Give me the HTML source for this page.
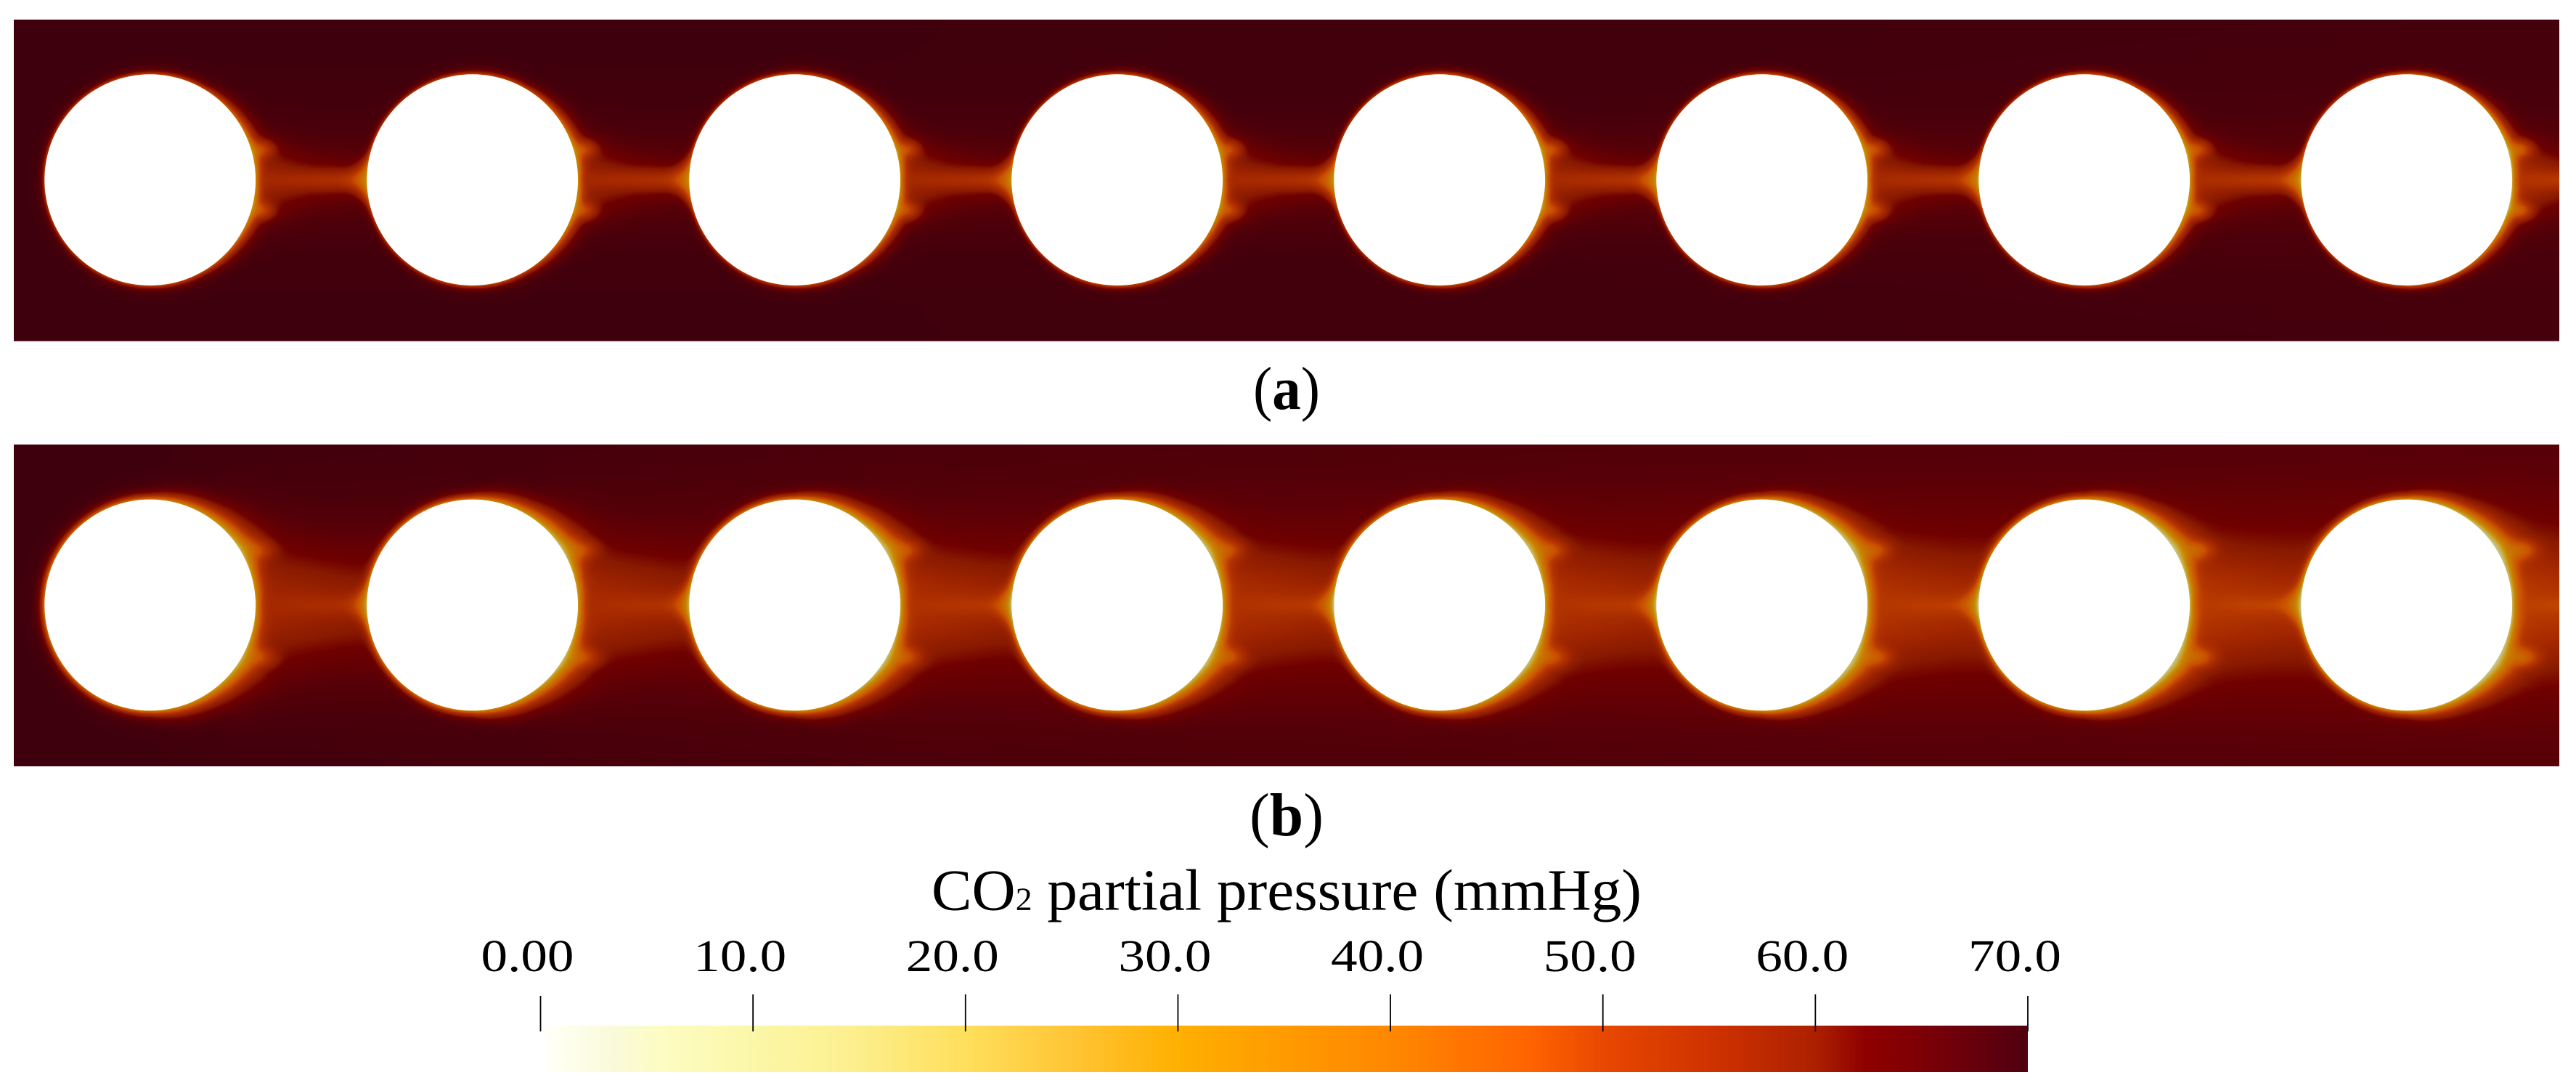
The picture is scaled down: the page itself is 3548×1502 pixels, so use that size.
<!DOCTYPE html>
<html lang="en">
<head>
<meta charset="utf-8">
<title>CO2 partial pressure field</title>
<style>
html,body{margin:0;padding:0;background:#fff;}
#figure{position:relative;width:3548px;height:1502px;overflow:hidden;background:#fff;}
canvas{position:absolute;left:19px;display:block;}
#field-a{top:27px;width:3506px;height:442px;}
#field-b{top:612px;width:3506px;height:443px;}
svg{position:absolute;left:0;top:0;}
text{font-family:"Liberation Serif",serif;fill:#000;}
</style>
</head>
<body>
<div id="figure">
<canvas id="field-a" width="1753" height="221"></canvas>
<canvas id="field-b" width="1753" height="222"></canvas>
<svg id="overlay" width="3548" height="1502" viewBox="0 0 3548 1502">
  <defs><linearGradient id="bar-gradient" x1="0" x2="1" y1="0" y2="0"></linearGradient></defs>
  <rect x="19" y="469" width="3506" height="1" fill="#7a4a50"></rect>
  <g id="holes"></g>
  <text x="1772" y="563" font-size="84" text-anchor="middle" textLength="92" lengthAdjust="spacingAndGlyphs">(<tspan font-weight="bold">a</tspan>)</text>
  <text x="1772" y="1150" font-size="84" text-anchor="middle" textLength="102" lengthAdjust="spacingAndGlyphs">(<tspan font-weight="bold">b</tspan>)</text>
  <text x="1772" y="1252.5" font-size="80" text-anchor="middle" textLength="978" lengthAdjust="spacingAndGlyphs">CO<tspan font-size="44">2</tspan> partial pressure (mmHg)</text>
  <g id="colorbar"></g>
</svg>
</div>
<script>
// Colour scale
const colorValues=[0,1,3.6,6,10,14.4,20,25,30,33.6,40,46.5,50,55.6,60,62.4,65,70];
const colorHexes=["#ffffff","#fffff0","#f9fad8","#fdfcc0","#fbf7a8","#fcf090","#ffdf5c","#ffc535","#ffb000","#ffa000","#ff8800","#ff6400","#e84800","#cc3000","#ac2000","#8e0000","#7c0006","#500010"];
// Colour bar axis
const tickValues=[0,10,20,30,40,50,60,70];
const tickLabels=["0.00","10.0","20.0","30.0","40.0","50.0","60.0","70.0"];
// Fibre layout
const fibreColumns=[0,1,2,3,4,5,6,7];
// Boundary layer angle stations (degrees from the downstream axis)
const phiA=[0,15,35,60,90,130,180];
const surfaceA=[38,44,32,24,24,20,20];
const thicknessA=[7,11,10,6,4.5,4,4];
const phiB=[0,15,33,60,90,130,180];
const surfaceB=[44,47,56,46,38,36,36];
const thicknessB=[9,12,20,13,6.5,5.5,5.5];
// Wake between fibres, stations along the gap
const gapStations=[0,0.2,0.5,0.8,1];
const wakeA=[10,9,6,4,4];
const wakeHeightA=[52,46,34,28,26];
const haloA=[4,4,4,4,4];
const coreA=[1,3,7,10,13];
const wakeB=[9,9,8,7,6];
const wakeHeightB=[90,80,70,62,62];
const haloB=[7,7,7,7,7];
const coreB=[0,1,3,4,5];
// Per-column strength and far field pressure deficit (mmHg)
const strengthA=[0.95,0.95,0.97,0.97,1,1,1.05,1.15];
const strengthB=[0.9,0.95,1,1,1,1.05,1.08,1.12];
const farDeficitA=[0,0,0,0.3,0.6,1,1.5,2];
const farDeficitB=[0,2,4,5.5,6.5,7.5,8,9];

const MAX_VALUE=70,SHADE=0.79;
const CX0=206.7,PITCH=444,RADIUS=145.4,GAP=PITCH-2*RADIUS;
const BAR_LEFT=744.5,BAR_RIGHT=2793;
const barX=v=>BAR_LEFT+(v/MAX_VALUE)*(BAR_RIGHT-BAR_LEFT);
const SVGNS="http://www.w3.org/2000/svg";

function hexRgb(h){return [parseInt(h.slice(1,3),16),parseInt(h.slice(3,5),16),parseInt(h.slice(5,7),16)];}
function interp(xs,ys,x){
  if(x<=xs[0])return ys[0];
  for(let i=1;i<xs.length;i++){if(x<=xs[i]){const t=(x-xs[i-1])/(xs[i]-xs[i-1]);return ys[i-1]+t*(ys[i]-ys[i-1]);}}
  return ys[ys.length-1];
}
const lutR=[],lutG=[],lutB=[];
(function(){
  const rgb=colorHexes.map(hexRgb);
  for(let i=0;i<=MAX_VALUE*10;i++){
    const v=i/10;
    lutR.push(SHADE*interp(colorValues,rgb.map(c=>c[0]),v));
    lutG.push(SHADE*interp(colorValues,rgb.map(c=>c[1]),v));
    lutB.push(SHADE*interp(colorValues,rgb.map(c=>c[2]),v));
  }
})();

function paintField(id,cfg){
  const cv=document.getElementById(id),ctx=cv.getContext("2d");
  const W=cv.width,H=cv.height,img=ctx.createImageData(W,H),px=img.data;
  const surf=[],thick=[];
  for(let a=0;a<=180;a++){surf.push(interp(cfg.phi,cfg.surface,a));thick.push(interp(cfg.phi,cfg.thickness,a));}
  const wide=[],wideH=[],core=[],halo=[];
  for(let j=0;j<=100;j++){const u=j/100;wide.push(interp(gapStations,cfg.wake,u));wideH.push(interp(gapStations,cfg.wakeHeight,u));core.push(interp(gapStations,cfg.core,u));halo.push(interp(gapStations,cfg.halo,u));}
  const scale=cfg.scaleY;
  const hotSurfU=Math.sqrt(RADIUS*RADIUS-cfg.hotUp*cfg.hotUp),hotSurfD=Math.sqrt(RADIUS*RADIUS-cfg.hotDown*cfg.hotDown);
  function layer(dx,dy){
    const r=Math.sqrt(dx*dx+dy*dy);
    const d=Math.max(0,r-RADIUS);
    const a=Math.min(180,Math.round(Math.abs(Math.atan2(dy,dx))*57.2958));
    return surf[a]*Math.exp(-d/thick[a]);
  }
  for(let iy=0;iy<H;iy++){
    const Y=cfg.top+(iy+0.5)*scale,dy=Y-cfg.cy,ady=Math.abs(dy);
    for(let ix=0;ix<W;ix++){
      const X=19+(ix+0.5)*2,o=(iy*W+ix)*4;
      const col=Math.floor((X-CX0)/PITCH);
      const cl=CX0+col*PITCH,cr=cl+PITCH;
      const hasL=col>=0,hasR=col<7;
      const idx=Math.max(0,Math.min(7,col));
      const k=cfg.strength[idx];
      let sum=0;
      const dL=X-cl,dR=X-cr;
      if(hasL){const D=k*layer(dL,dy);sum+=D*D;}
      if(hasR){const D=k*layer(dR,dy);sum+=D*D;}
      if(hasL&&dL>60){
        // cusped plumes on the rear flank of a fibre
        const shift=idx*cfg.hotShift;
        const hu=(dL-hotSurfU-cfg.hotGap-shift)/cfg.hotSx,hd=(dL-hotSurfD-cfg.hotGap-shift)/cfg.hotSx;
        const vu=(dy+cfg.hotUp)/cfg.hotSy,vd=(dy-cfg.hotDown)/cfg.hotSy;
        const hot=k*cfg.hotAmp*(Math.exp(-hu*hu-vu*vu)+Math.exp(-hd*hd-vd*vd));
        sum+=hot*hot;
      }
      if(hasL&&dL>80){
        // wake band, halo and core line
        const fade=Math.min(1,(dL-80)/30);
        const u=Math.max(0,Math.min(1,(dL-RADIUS)/GAP)),j=Math.round(u*100);
        const rh=ady/wideH[j];
        const band=wide[j]*Math.exp(-rh*rh);
        const cr2=ady/(cfg.coreWidth+u*4);
        const beam=core[j]*Math.exp(-cr2*cr2);
        const hr=ady/cfg.haloHeight;
        const wake=fade*k*(band+beam+halo[j]*Math.exp(-hr*hr));
        sum+=wake*wake;
      }
      if(hasL&&hasR){
        // leading edge cusp on the next fibre
        const r=Math.sqrt(dR*dR+dy*dy),dl=Math.max(0,r-RADIUS);
        if(dR<0&&dl<110){
          const ww=cfg.cuspWidth+0.75*Math.max(0,40-dl),q=ady/ww;
          const cusp=k*cfg.cuspAmp*Math.exp(-dl/cfg.cuspLen)*Math.exp(-q*q);
          sum+=cusp*cusp;
        }
      }
      const fx=interp(fibreColumns,cfg.far,(X-CX0)/PITCH);
      const ry=dy/cfg.farSpread;
      const far=fx*(cfg.farBase+(1-cfg.farBase)*Math.exp(-ry*ry));
      sum+=far*far;
      const D=Math.sqrt(sum);
      const v=Math.max(0,MAX_VALUE-D),c=Math.round(v*10);
      px[o]=lutR[c];px[o+1]=lutG[c];px[o+2]=lutB[c];px[o+3]=255;
    }
  }
  ctx.putImageData(img,0,0);
}

paintField("field-a",{top:27,cy:247.7,scaleY:2,phi:phiA,surface:surfaceA,thickness:thicknessA,wake:wakeA,wakeHeight:wakeHeightA,halo:haloA,haloHeight:75,core:coreA,strength:strengthA,far:farDeficitA,farBase:0.3,farSpread:140,hotAmp:20,hotSx:21,hotSy:15,hotUp:42,hotDown:42,hotGap:14,hotShift:0.4,coreWidth:12,cuspAmp:36,cuspLen:19,cuspWidth:7});
paintField("field-b",{top:612,cy:833,scaleY:443/222,phi:phiB,surface:surfaceB,thickness:thicknessB,wake:wakeB,wakeHeight:wakeHeightB,halo:haloB,haloHeight:125,core:coreB,strength:strengthB,far:farDeficitB,farBase:0.3,farSpread:150,hotAmp:21,hotSx:29,hotSy:18,hotUp:76,hotDown:72,hotGap:22,hotShift:1.5,coreWidth:12,cuspAmp:40,cuspLen:19,cuspWidth:8});

// Fibre holes
const holeLayer=document.getElementById("holes");
[247.7,833].forEach(function(cy,p){
  fibreColumns.forEach(function(c){
    const h=document.createElementNS(SVGNS,"ellipse");
    h.setAttribute("cx",CX0+c*PITCH);
    h.setAttribute("cy",cy);
    h.setAttribute("rx",RADIUS);
    h.setAttribute("ry",RADIUS);
    h.setAttribute("fill","#ffffff");
    
    
    holeLayer.appendChild(h);
  });
});

// Colour bar
const grad=document.getElementById("bar-gradient");
colorValues.forEach(function(v,i){
  const s=document.createElementNS(SVGNS,"stop");
  s.setAttribute("offset",v/MAX_VALUE);
  s.setAttribute("stop-color",colorHexes[i]);
  grad.appendChild(s);
});
const cb=document.getElementById("colorbar");
const bar=document.createElementNS(SVGNS,"rect");
bar.setAttribute("x",BAR_LEFT);
bar.setAttribute("y",1412);
bar.setAttribute("width",BAR_RIGHT-BAR_LEFT);
bar.setAttribute("height",64);
bar.setAttribute("fill","url(#bar-gradient)");


cb.appendChild(bar);
tickValues.forEach(function(v,i){
  const x=barX(v),edge=(i===0||i===tickValues.length-1);
  const t=document.createElementNS(SVGNS,"line");
  t.setAttribute("x1",x);
  t.setAttribute("x2",x);
  t.setAttribute("y1",edge?1371:1369);
  t.setAttribute("y2",1420);
  t.setAttribute("stroke","#000");
  t.setAttribute("stroke-width",1.8);
  
  
  cb.appendChild(t);
  const l=document.createElementNS(SVGNS,"text");
  l.setAttribute("x",x-18);
  l.setAttribute("y",1337);
  l.setAttribute("font-size",62);
  l.setAttribute("text-anchor","middle");
  l.setAttribute("textLength",128);
  l.setAttribute("lengthAdjust","spacingAndGlyphs");
  
  
  l.textContent=tickLabels[i];
  cb.appendChild(l);
});
</script>
</body>
</html>
